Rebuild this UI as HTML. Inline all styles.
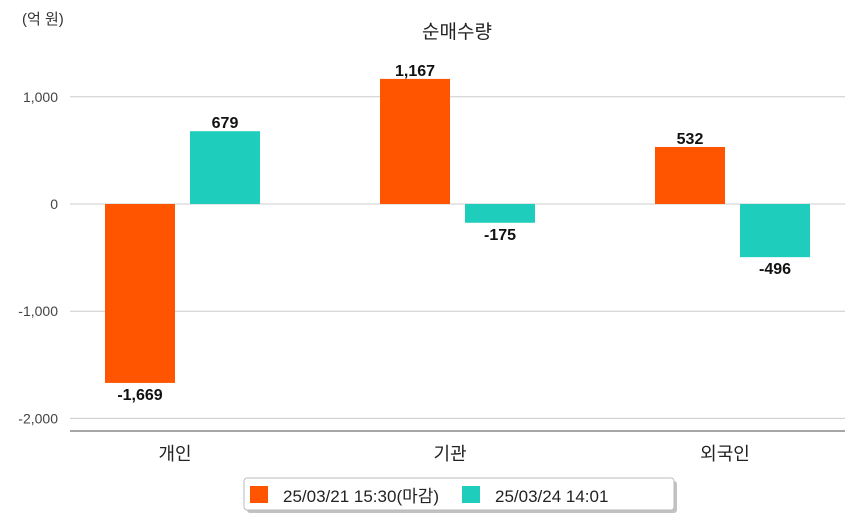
<!DOCTYPE html>
<html><head><meta charset="utf-8"><style>
body{margin:0;background:#fff;}
svg{display:block;font-family:"Liberation Sans","Noto Sans CJK KR",sans-serif;}
</style></head><body>
<svg id="c" width="854" height="520" viewBox="0 0 854 520">
<text x="22" y="24" font-size="15" fill="#333">(억 원)</text>
<text x="457" y="38" font-size="19" fill="#222" text-anchor="middle">순매수량</text>
<g id="grid"></g><g id="bars"></g>
<line x1="70" x2="845" y1="431" y2="431" stroke="#888" stroke-width="1.5"/>
<g>
<rect x="247" y="481" width="430" height="32" rx="3" fill="#999" opacity="0.6"/>
<rect x="244" y="478" width="430" height="32" rx="3" fill="#fff" stroke="#bbb"/>
<rect x="250" y="486" width="18" height="17" fill="#ff5500"/>
<text x="283" y="502" font-size="17" fill="#222">25/03/21 15:30(마감)</text>
<rect x="462" y="486" width="18" height="17" fill="#1ecdbb"/>
<text x="495" y="502" font-size="17" fill="#222">25/03/24 14:01</text>
</g>
</svg>
<script>
const categories=["개인","기관","외국인"];
const series1=[-1669,1167,532];
const series2=[679,-175,-496];
const yTicks=[1000,0,-1000,-2000];
const tickLabels=["1,000","0","-1,000","-2,000"];
const ns="http://www.w3.org/2000/svg";
const y=v=>204-v*0.1072;
const cx=i=>70+275*i+105;
const fmt=v=>v.toLocaleString("en-US");
function mk(tag,at,parent,txt){const e=document.createElementNS(ns,tag);for(const k in at)e.setAttribute(k,at[k]);if(txt!==undefined)e.textContent=txt;document.getElementById(parent).appendChild(e);return e;}
yTicks.forEach((t,i)=>{
 const l=mk("line",{x1:70,x2:845,y1:y(t),y2:y(t),stroke:"#ccc"},"grid");
 
 
 const tx=mk("text",{x:58,y:y(t)+5,"font-size":14,fill:"#444","text-anchor":"end"},"grid",tickLabels[i]);
 
 
});
categories.forEach((c,i)=>{
 const t=mk("text",{x:cx(i),y:460,"font-size":18,fill:"#222","text-anchor":"middle"},"grid",c);
 
 
 [[series1,"#ff5500",-70],[series2,"#1ecdbb",15]].forEach(([s,col,off],k)=>{
  const v=s[i],x=cx(i)+off,y0=y(0),yv=y(v);
  const r=mk("rect",{x:x,y:Math.min(y0,yv),width:70,height:Math.abs(yv-y0),fill:col},"bars");
  
  
  const ly=v>=0?yv-3:yv+17;
  const lb=mk("text",{x:x+35,y:ly,"font-size":16,"font-weight":"bold",fill:"#111","text-anchor":"middle"},"bars",fmt(v));
  
  
 });
});
</script>
</body></html>
